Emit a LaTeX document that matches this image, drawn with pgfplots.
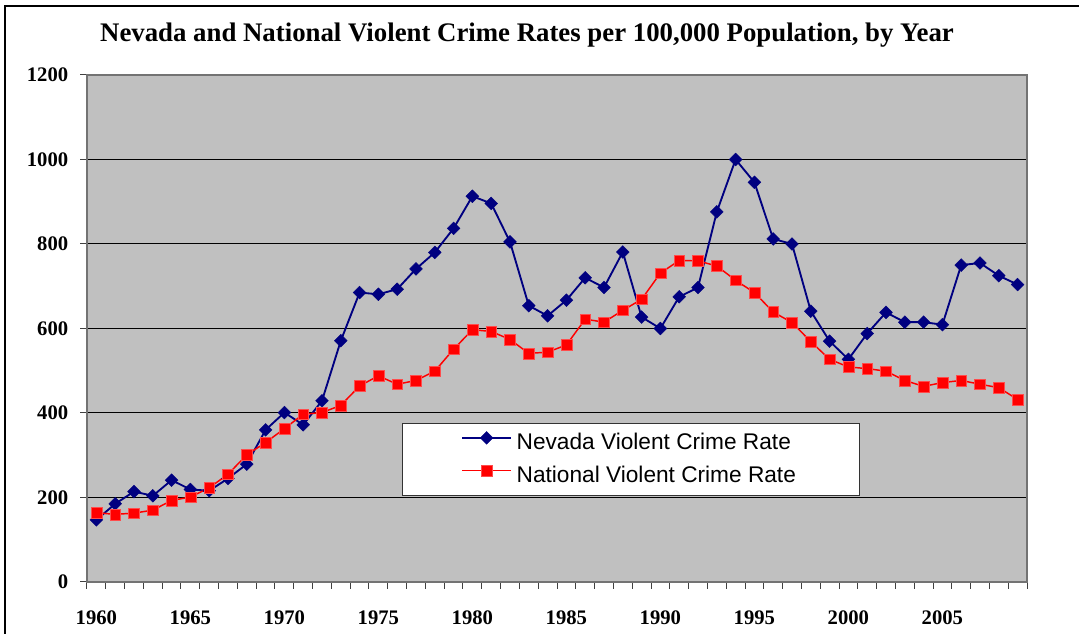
\documentclass[border=0pt]{standalone}
\usepackage{fontspec}
\setmainfont{Liberation Serif}
\newfontfamily\legendfont{Liberation Sans}
\usepackage{pgfplots}
\pgfplotsset{compat=1.18}
\definecolor{navyc}{RGB}{0,0,128}
\definecolor{plotbg}{RGB}{192,192,192}
\begin{document}
\begin{tikzpicture}
\begin{axis}[
  at={(0,0)}, anchor=south west,
  width=705pt, height=380.25pt, scale only axis,
  xmin=1959.5, xmax=2009.5, ymin=0, ymax=1200,
  axis background/.style={fill=plotbg},
  axis line style={draw=black!55, line width=1.1pt},
  ytick={0,200,400,600,800,1000,1200},
  yticklabels={0,200,400,600,800,1000,1200},
  xtick={1959.5,1960.5,...,2009.5},
  xticklabels={1960,,,,,1965,,,,,1970,,,,,1975,,,,,1980,,,,,1985,,,,,1990,,,,,1995,,,,,2000,,,,,2005,,,,,},
  tick align=outside, tick pos=left,
  major tick length=5pt,
  tick style={draw=black!75, line width=0.75pt},
  ymajorgrids, grid style={black, line width=0.75pt},
  ticklabel style={font=\bfseries\fontsize{15.5}{15.5}\selectfont, inner sep=0pt},
  yticklabel style={anchor=east, xshift=-13.9pt+5pt},
  xticklabel style={anchor=north, xshift=7.05pt, yshift=-21.3pt+5pt},
  legend style={at={(0.3351,0.3136)}, anchor=north west,
    draw=black!80, line width=0.75pt, fill=white,
    inner xsep=44pt, inner ysep=6pt, row sep=8.3pt,
    font=\legendfont\fontsize{17}{17}\selectfont,
    nodes={inner xsep=3.5pt, inner ysep=0pt, text height=12.2pt, text depth=3.6pt}},
  legend cell align=left,
  legend image code/.code={\draw[mark repeat=2,mark phase=2,#1,yshift=4.4pt] plot coordinates {(0pt,0pt) (18.4pt,0pt) (36.75pt,0pt)};},
  clip=false,
]
\addplot[color=navyc, line width=1.4pt, mark=square*, mark size=3.4pt, mark options={rotate=45, solid, fill=navyc, line width=0.3pt}] coordinates {
(1960,147) (1961,185) (1962,214) (1963,204) (1964,241) (1965,219) (1966,216) (1967,245) (1968,279) (1969,360)
(1970,401) (1971,372) (1972,429) (1973,571) (1974,685) (1975,681) (1976,693) (1977,741) (1978,780) (1979,837)
(1980,913) (1981,896) (1982,805) (1983,654) (1984,630) (1985,667) (1986,720) (1987,697) (1988,781) (1989,627)
(1990,600) (1991,675) (1992,697) (1993,876) (1994,1000) (1995,946) (1996,812) (1997,800) (1998,641) (1999,570)
(2000,527) (2001,588) (2002,638) (2003,615) (2004,615) (2005,609) (2006,750) (2007,755) (2008,725) (2009,704)
};
\addlegendentry{Nevada Violent Crime Rate}
\addplot[color=red, line width=1.1pt, mark=square*, mark size=4pt, mark options={solid, fill=red, draw=red!70!white, line width=0.3pt}] coordinates {
(1960,164) (1961,160) (1962,163) (1963,170) (1964,193) (1965,201) (1966,223) (1967,255) (1968,301) (1969,330)
(1970,363) (1971,397) (1972,401) (1973,418) (1974,464) (1975,488) (1976,468) (1977,477) (1978,499) (1979,551)
(1980,597) (1981,593) (1982,574) (1983,541) (1984,544) (1985,561) (1986,622) (1987,615) (1988,643) (1989,669)
(1990,731) (1991,761) (1992,760) (1993,748) (1994,714) (1995,685) (1996,639) (1997,614) (1998,569) (1999,527)
(2000,509) (2001,505) (2002,499) (2003,477) (2004,463) (2005,472) (2006,477) (2007,468) (2008,460) (2009,432)
};
\addlegendentry{National Violent Crime Rate}
\end{axis}
\node[anchor=base, font=\bfseries\fontsize{20.1}{20.1}\selectfont] at (330pt,405pt) {Nevada and National Violent Crime Rates per 100,000 Population, by Year};
\draw[line width=1.5pt] (-61.5pt,-80pt) -- (-61.5pt,432pt) -- (800pt,432pt);
\pgfresetboundingbox
\path[use as bounding box] (-65.25pt,-39pt) rectangle (744pt,436.5pt);
\end{tikzpicture}
\end{document}
